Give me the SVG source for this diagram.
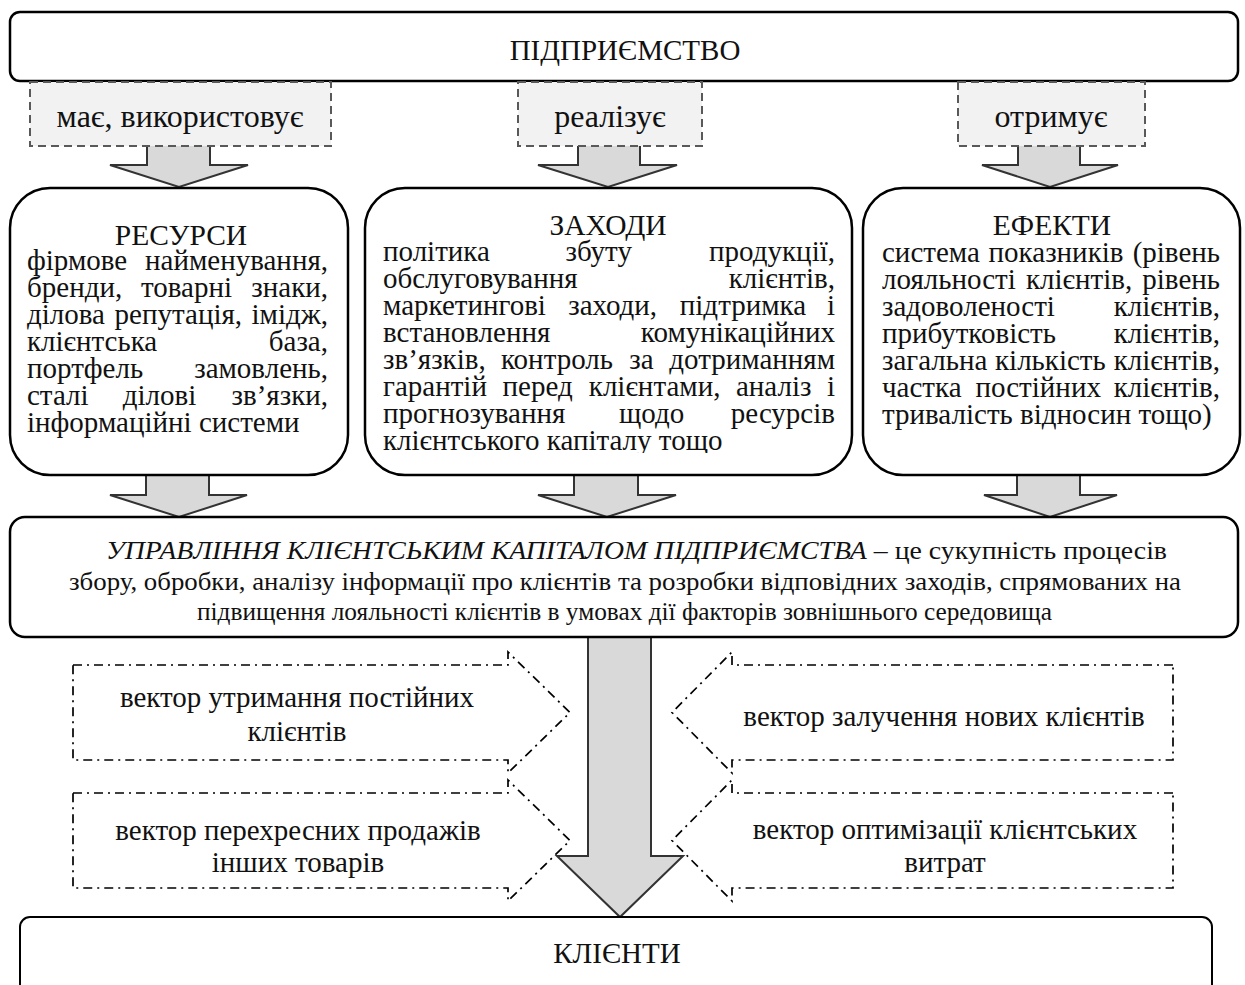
<svg xmlns="http://www.w3.org/2000/svg" width="1245" height="985" viewBox="0 0 1245 985">
  <style>
    .box{fill:#fff;stroke:#000;stroke-width:2.5}
    .lbl{fill:#f2f2f2;stroke:#595959;stroke-width:2;stroke-dasharray:8 5}
    .arr{fill:#d9d9d9;stroke:#333;stroke-width:2}
    .vec{fill:none;stroke:#000;stroke-width:1.7;stroke-dasharray:9 5 2 5}
    text{font-family:"Liberation Serif","Times New Roman",serif;font-size:29px;fill:#111}
    .c{text-anchor:middle}
    .e{text-anchor:end}
    .it{font-style:italic}
    .ttl{font-size:29.5px}
    .tag{font-size:32px}
    .def{font-size:25px}
  </style>
  <defs>
    <clipPath id="clipMeasures">
      <rect x="366" y="190" width="485" height="263"/>
    </clipPath>
  </defs>

  <!-- connectors: block arrows -->
  <g id="connectors">
    <path class="arr" d="M147,146 V165 H110 L179,187 L248,165 H210 V146"/>
    <path class="arr" d="M578,146 V165 H538 L608,187 L677,165 H640 V146"/>
    <path class="arr" d="M1018,146 V165 H982 L1050,187 L1118,165 H1080 V146"/>
    <path class="arr" d="M146,474 V495 H110 L179,517 L247,495 H209 V474"/>
    <path class="arr" d="M574,474 V495 H538 L607,517 L676,495 H638 V474"/>
    <path class="arr" d="M1017,474 V495 H984 L1050,517 L1117,495 H1080 V474"/>
    <path class="arr" d="M588,636 V856 H557 L620,917 L683,856 H651 V636"/>
  </g>

  <g id="enterprise">
    <rect class="box" x="10" y="12" width="1228" height="69" rx="10"/>
    <text class="c" x="625" y="60" font-size="28">ПІДПРИЄМСТВО</text>
  </g>

  <g id="label-has">
    <rect class="lbl" x="30" y="82" width="301" height="64"/>
    <text class="c tag" x="180" y="127">має, використовує</text>
  </g>
  <g id="label-implements">
    <rect class="lbl" x="518" y="82" width="184" height="64"/>
    <text class="c tag" x="610" y="127">реалізує</text>
  </g>
  <g id="label-receives">
    <rect class="lbl" x="958" y="82" width="187" height="64"/>
    <text class="c tag" x="1051" y="127">отримує</text>
  </g>

  <g id="resources">
    <rect class="box" x="10" y="188" width="338" height="287" rx="40"/>
    <text class="c ttl" x="181" y="245">РЕСУРСИ</text>
    <text y="270"><tspan x="27">фірмове</tspan><tspan class="e" x="328">найменування,</tspan></text>
    <text y="297"><tspan x="27">бренди,</tspan><tspan x="141">товарні</tspan><tspan class="e" x="328">знаки,</tspan></text>
    <text y="324"><tspan x="27">ділова</tspan><tspan x="114.6">репутація,</tspan><tspan class="e" x="328">імідж,</tspan></text>
    <text y="351"><tspan x="27">клієнтська</tspan><tspan class="e" x="328">база,</tspan></text>
    <text y="378"><tspan x="27">портфель</tspan><tspan class="e" x="328">замовлень,</tspan></text>
    <text y="405"><tspan x="27">сталі</tspan><tspan x="122.8">ділові</tspan><tspan class="e" x="328">зв’язки,</tspan></text>
    <text x="27" y="432">інформаційні системи</text>
  </g>

  <g id="measures">
    <rect class="box" x="365" y="188" width="487" height="287" rx="40"/>
    <text class="c ttl" x="608" y="235">ЗАХОДИ</text>
    <g clip-path="url(#clipMeasures)">
      <text y="261"><tspan x="383">політика</tspan><tspan x="565.5">збуту</tspan><tspan class="e" x="835">продукції,</tspan></text>
      <text y="288"><tspan x="383">обслуговування</tspan><tspan class="e" x="835">клієнтів,</tspan></text>
      <text y="315"><tspan x="383">маркетингові</tspan><tspan x="568.2">заходи,</tspan><tspan x="679.8">підтримка</tspan><tspan class="e" x="835">і</tspan></text>
      <text y="342"><tspan x="383">встановлення</tspan><tspan class="e" x="835">комунікаційних</tspan></text>
      <text y="369"><tspan x="383">зв’язків,</tspan><tspan x="501">контроль</tspan><tspan x="629.3">за</tspan><tspan class="e" x="835">дотриманням</tspan></text>
      <text y="396"><tspan x="383">гарантій</tspan><tspan x="502.6">перед</tspan><tspan x="588.8">клієнтами,</tspan><tspan x="735.9">аналіз</tspan><tspan class="e" x="835">і</tspan></text>
      <text y="423"><tspan x="383">прогнозування</tspan><tspan x="618.9">щодо</tspan><tspan class="e" x="835">ресурсів</tspan></text>
      <text x="383" y="450">клієнтського капіталу тощо</text>
    </g>
  </g>

  <g id="effects">
    <rect class="box" x="863" y="188" width="377" height="287" rx="40"/>
    <text class="c ttl" x="1052" y="235">ЕФЕКТИ</text>
    <text y="262"><tspan x="882">система</tspan><tspan x="988.6">показників</tspan><tspan class="e" x="1220">(рівень</tspan></text>
    <text y="289"><tspan x="882">лояльності</tspan><tspan x="1026">клієнтів,</tspan><tspan class="e" x="1220">рівень</tspan></text>
    <text y="316"><tspan x="882">задоволеності</tspan><tspan class="e" x="1220">клієнтів,</tspan></text>
    <text y="343"><tspan x="882">прибутковість</tspan><tspan class="e" x="1220">клієнтів,</tspan></text>
    <text y="370"><tspan x="882">загальна</tspan><tspan x="995">кількість</tspan><tspan class="e" x="1220">клієнтів,</tspan></text>
    <text y="397"><tspan x="882">частка</tspan><tspan x="975.5">постійних</tspan><tspan class="e" x="1220">клієнтів,</tspan></text>
    <text x="882" y="424">тривалість відносин тощо)</text>
  </g>

  <g id="management">
    <rect class="box" x="10" y="517" width="1228" height="120" rx="15"/>
    <text class="def" x="106" y="559" textLength="1061" lengthAdjust="spacingAndGlyphs"><tspan class="it">УПРАВЛІННЯ КЛІЄНТСЬКИМ КАПІТАЛОМ ПІДПРИЄМСТВА</tspan> – це сукупність процесів</text>
    <text class="def" x="69" y="590" textLength="1112" lengthAdjust="spacingAndGlyphs">збору, обробки, аналізу інформації про клієнтів та розробки відповідних заходів, спрямованих на</text>
    <text class="def" x="197" y="620" textLength="855" lengthAdjust="spacingAndGlyphs">підвищення лояльності клієнтів в умовах дії факторів зовнішнього середовища</text>
  </g>

  <g id="vector-retain">
    <path class="vec" d="M73,665 H508 V652 L570,712.5 L508,773 V760 H73 Z"/>
    <text class="c" x="297" y="707">вектор утримання постійних</text>
    <text class="c" x="297" y="741">клієнтів</text>
  </g>
  <g id="vector-cross">
    <path class="vec" d="M73,793 H508 V780 L570,840.5 L508,901 V888 H73 Z"/>
    <text class="c" x="298" y="840">вектор перехресних продажів</text>
    <text class="c" x="298" y="872">інших товарів</text>
  </g>
  <g id="vector-attract">
    <path class="vec" d="M1173,665 H732 V652 L672,712.5 L732,773 V760 H1173 Z"/>
    <text class="c" x="944" y="726">вектор залучення нових клієнтів</text>
  </g>
  <g id="vector-optimize">
    <path class="vec" d="M1173,793 H732 V780 L672,840.5 L732,901 V888 H1173 Z"/>
    <text class="c" x="945" y="839">вектор оптимізації клієнтських</text>
    <text class="c" x="945" y="872">витрат</text>
  </g>

  <g id="clients">
    <rect class="box" x="20" y="917" width="1192" height="90" rx="10" style="stroke-width:2"/>
    <text class="c" x="617" y="963" font-size="28">КЛІЄНТИ</text>
  </g>
</svg>
